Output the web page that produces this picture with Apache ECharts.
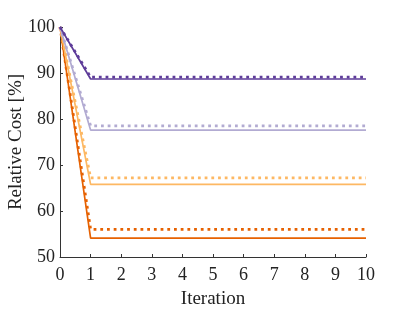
<!DOCTYPE html>
<html><head><meta charset="utf-8">
<script src="https://cdn.jsdelivr.net/npm/echarts@6/dist/echarts.min.js"></script>
<style>html,body{margin:0;padding:0;background:#fff}#c{width:406px;height:313px}</style>
</head><body><div id="c"></div>
<script>
const iterations = [0,1,2,3,4,5,6,7,8,9,10];
const darkPurpleSolid  = [100,88.7,88.7,88.7,88.7,88.7,88.7,88.7,88.7,88.7,88.7];
const darkPurpleDotted = [100,89.1,89.1,89.1,89.1,89.1,89.1,89.1,89.1,89.1,89.1];
const lightPurpleSolid  = [100,77.6,77.6,77.6,77.6,77.6,77.6,77.6,77.6,77.6,77.6];
const lightPurpleDotted = [100,78.5,78.5,78.5,78.5,78.5,78.5,78.5,78.5,78.5,78.5];
const lightOrangeSolid  = [100,65.8,65.8,65.8,65.8,65.8,65.8,65.8,65.8,65.8,65.8];
const lightOrangeDotted = [100,67.2,67.2,67.2,67.2,67.2,67.2,67.2,67.2,67.2,67.2];
const darkOrangeSolid  = [100,54.1,54.1,54.1,54.1,54.1,54.1,54.1,54.1,54.1,54.1];
const darkOrangeDotted = [100,56.0,56.0,56.0,56.0,56.0,56.0,56.0,56.0,56.0,56.0];

const font = 'Liberation Serif';
function pairs(vals){ return iterations.map((x,i)=>[x, vals[i]]); }
function solid(vals, color){ return {type:'line', data:pairs(vals), showSymbol:false, symbol:'none', animation:false,
  lineStyle:{color:color, width:1.7, type:'solid'}}; }
function dotted(vals, color){ return {type:'line', data:pairs(vals), showSymbol:false, symbol:'none', animation:false,
  lineStyle:{color:color, width:2.8, type:[2.8,3.9], cap:'butt'}}; }

const chart = echarts.init(document.getElementById('c'), null, {renderer:'canvas'});
chart.setOption({
  backgroundColor:'#fff',
  grid:{left:60, right:40, top:27, bottom:56, containLabel:false, outerBoundsMode:'none'},
  xAxis:{type:'value', min:0, max:10, interval:1, name:'Iteration', nameLocation:'middle', nameGap:33, nameMoveOverlap:false,
    nameTextStyle:{fontFamily:font, fontSize:19, color:'#222'},
    axisLine:{lineStyle:{color:'#333', width:1}},
    axisTick:{inside:true, length:3, lineStyle:{color:'#333'}},
    axisLabel:{fontFamily:font, fontSize:18, color:'#222', margin:9},
    splitLine:{show:false}},
  yAxis:{type:'value', min:50, max:100, interval:10, name:'Relative Cost [%]', nameLocation:'middle', nameGap:34, nameMoveOverlap:false,
    nameTextStyle:{fontFamily:font, fontSize:19, color:'#222'},
    axisLine:{show:true, lineStyle:{color:'#333', width:1}},
    axisTick:{show:true, inside:true, length:3, lineStyle:{color:'#333'}},
    axisLabel:{fontFamily:font, fontSize:18, color:'#222', margin:5},
    splitLine:{show:false}},
  series:[
    solid(darkOrangeSolid,'#e66101'), dotted(darkOrangeDotted,'#e66101'),
    solid(lightOrangeSolid,'#fdb863'), dotted(lightOrangeDotted,'#fdb863'),
    solid(lightPurpleSolid,'#b2abd2'), dotted(lightPurpleDotted,'#b2abd2'),
    solid(darkPurpleSolid,'#5e3c99'), dotted(darkPurpleDotted,'#5e3c99')
  ]
});
</script></body></html>
